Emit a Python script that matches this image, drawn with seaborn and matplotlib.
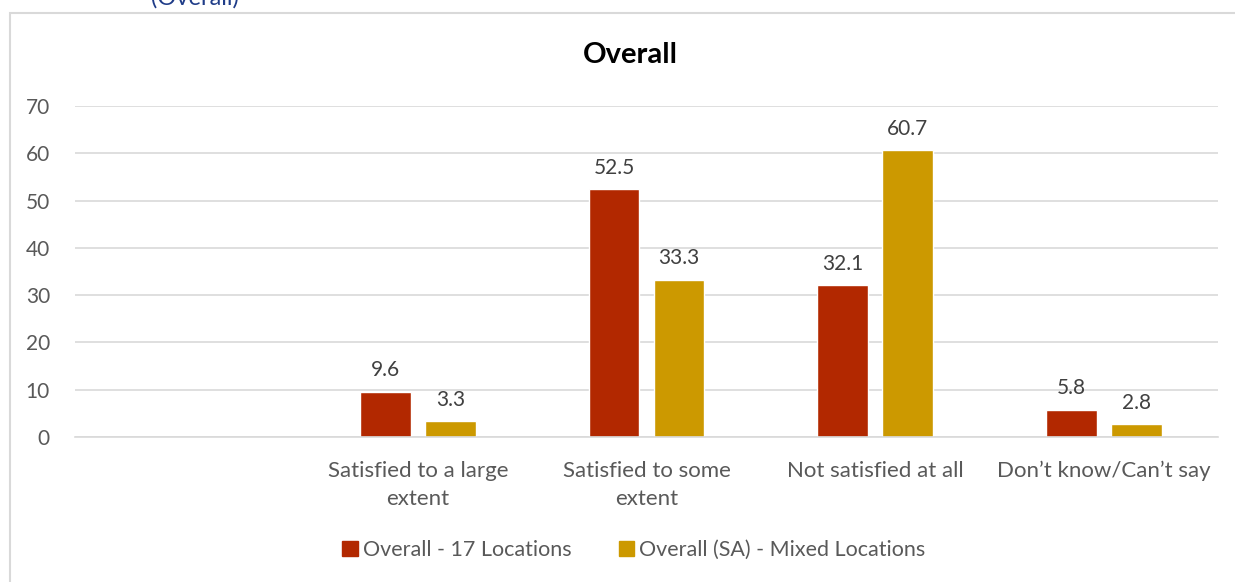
import pandas as pd
import matplotlib.pyplot as plt
import matplotlib.patches as mpatches
import seaborn as sns

categories = ["Satisfied to a large\nextent", "Satisfied to some\nextent",
              "Not satisfied at all", "Don\u2019t know/Can\u2019t say"]
slots = [""] + categories  # the reference keeps an empty first slot
series = ["Overall - 17 Locations", "Overall (SA) - Mixed Locations"]
vals_17 = [9.6, 52.5, 32.1, 5.8]
vals_sa = [3.3, 33.3, 60.7, 2.8]
colors = ["#B22800", "#CC9900"]

df = pd.DataFrame({
    "cat": categories * 2,
    "series": [series[0]] * 4 + [series[1]] * 4,
    "val": vals_17 + vals_sa,
})

sns.set_style("white")
plt.rcParams["font.family"] = ["Lato", "DejaVu Sans"]

fig = plt.figure(figsize=(12.35, 5.82), dpi=100)
ax = fig.add_axes([75 / 1235, 1 - 437 / 582, (1218 - 75) / 1235, (437 - 106) / 582])

sns.barplot(data=df, x="cat", y="val", hue="series", order=slots,
            hue_order=series, palette=colors, width=0.57, gap=0.22,
            saturation=1, ax=ax, legend=True)

for cont in ax.containers:
    ax.bar_label(cont, fmt="%.1f", padding=8, fontsize=15, color="#404040")

ax.set_ylim(0, 70)
ax.set_yticks(range(0, 71, 10))
ax.yaxis.grid(True, color="#D9D9D9", linewidth=1.2)
ax.set_axisbelow(True)
for s in ["top", "right", "left"]:
    ax.spines[s].set_visible(False)
ax.spines["bottom"].set_color("#D9D9D9")
ax.spines["bottom"].set_linewidth(1.2)
ax.tick_params(axis="both", length=0, labelcolor="#595959")
ax.tick_params(axis="y", pad=18, labelsize=15)
ax.tick_params(axis="x", pad=17, labelsize=16)
for lbl in ax.get_xticklabels():
    lbl.set_linespacing(1.5)
ax.set_xlabel("")
ax.set_ylabel("")

ax.legend_.remove()
handles = [mpatches.Patch(color=c, label=s) for c, s in zip(colors, series)]
fig.legend(handles=handles, loc="center", bbox_to_anchor=(634 / 1235, 1 - 550 / 582),
           ncol=2, frameon=False, fontsize=15.5, handlelength=0.7, handleheight=0.7,
           handletextpad=0.25, columnspacing=2.2, labelcolor="#595959")

fig.text(630 / 1235, 1 - 55 / 582, "Overall", ha="center", va="center",
         fontsize=21, fontweight="bold", color="black")

# cut-off heading above the chart frame
fig.text(195 / 1235, 1 - 5 / 582, "(Overall)", ha="center", va="baseline",
         fontsize=17, color="#1F3C88")

frame = mpatches.Rectangle((10 / 1235, -0.1), 1.2, 1 - 13 / 582 + 0.1,
                           transform=fig.transFigure, fill=False,
                           edgecolor="#D9D9D9", linewidth=1.5)
fig.patches.append(frame)

fig.savefig("out.png", dpi=100)
